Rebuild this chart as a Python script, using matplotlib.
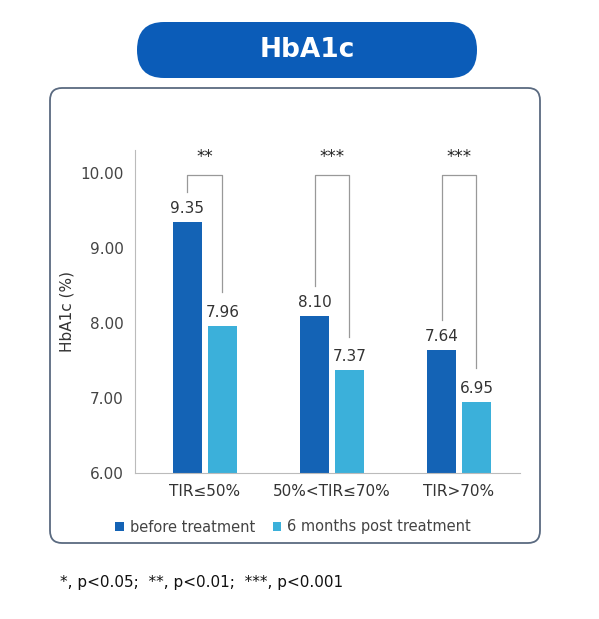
import matplotlib
matplotlib.use("Agg")
import matplotlib.pyplot as plt
from matplotlib.patches import FancyBboxPatch
import numpy as np

categories = ["TIR≤50%", "50%<TIR≤70%", "TIR>70%"]
before = [9.35, 8.10, 7.64]
after = [7.96, 7.37, 6.95]
stars = ["**", "***", "***"]
yticks = [6.0, 7.0, 8.0, 9.0, 10.0]

dark = "#1463b5"
light = "#3bb0da"

fig = plt.figure(figsize=(5.99, 6.19), dpi=100)
fig.patch.set_facecolor("white")

# panel box
fig.patches.append(FancyBboxPatch((50/599, 1-543/619), 490/599, 455/619,
                                  boxstyle="round,pad=0,rounding_size=0.02",
                                  transform=fig.transFigure, facecolor="white",
                                  edgecolor="#5a6a80", lw=1.3, zorder=-5))
# title pill
fig.patches.append(FancyBboxPatch((137/599, 1-78/619), 340/599, 56/619,
                                  boxstyle="round,pad=0,rounding_size=0.045",
                                  transform=fig.transFigure, facecolor="#0b5cb8",
                                  edgecolor="none", zorder=-5))
fig.text(307/599, 1-50/619, "HbA1c", color="white", fontsize=19, fontweight="bold",
         ha="center", va="center")

ax = fig.add_axes([135/599, 1-473/619, 385/599, 323/619])
ax.set_zorder(5)
x = np.arange(len(categories))
w = 0.23
off = 0.137
ax.bar(x - off, before, w, bottom=0, color=dark, label="before treatment")
ax.bar(x + off, after, w, bottom=0, color=light, label="6 months post treatment")
ax.set_ylim(6, 10.31)
ax.set_xlim(-0.55, 2.48)
for i in range(len(categories)):
    ax.text(x[i] - off, before[i] + 0.08, f"{before[i]:.2f}", ha="center", va="bottom",
            fontsize=11, color="#333333")
    ax.text(x[i] + off, after[i] + 0.08, f"{after[i]:.2f}", ha="center", va="bottom",
            fontsize=11, color="#333333")
    top = 9.97
    ax.plot([x[i] - off, x[i] - off, x[i] + off, x[i] + off],
            [before[i] + 0.4, top, top, after[i] + 0.45], color="#999999", lw=0.9,
            clip_on=False)
    ax.text(x[i], top + 0.12, stars[i], ha="center", va="bottom", fontsize=12,
            color="#222222", clip_on=False)

ax.set_yticks(yticks)
ax.set_yticklabels([f"{t:.2f}" for t in yticks], fontsize=11, color="#444444")
ax.set_xticks(x)
ax.set_xticklabels(categories, fontsize=11, color="#333333")
ax.set_ylabel("HbA1c (%)", fontsize=11, color="#333333")
ax.tick_params(length=0, pad=8)
for s in ["top", "right"]:
    ax.spines[s].set_visible(False)
ax.spines["left"].set_color("#bbbbbb")
ax.spines["bottom"].set_color("#bbbbbb")
ax.set_facecolor("none")

ax.legend(loc="center", bbox_to_anchor=(293/599, 1-527/619), bbox_transform=fig.transFigure,
          ncol=2, frameon=False, fontsize=10.5, handlelength=0.6, handleheight=0.6,
          columnspacing=1.2, handletextpad=0.4, labelcolor="#444444")

fig.text(60/599, 1-583/619, "*, p<0.05;  **, p<0.01;  ***, p<0.001", fontsize=11,
         color="#111111", va="center", ha="left")

fig.savefig("out.png", dpi=100)
